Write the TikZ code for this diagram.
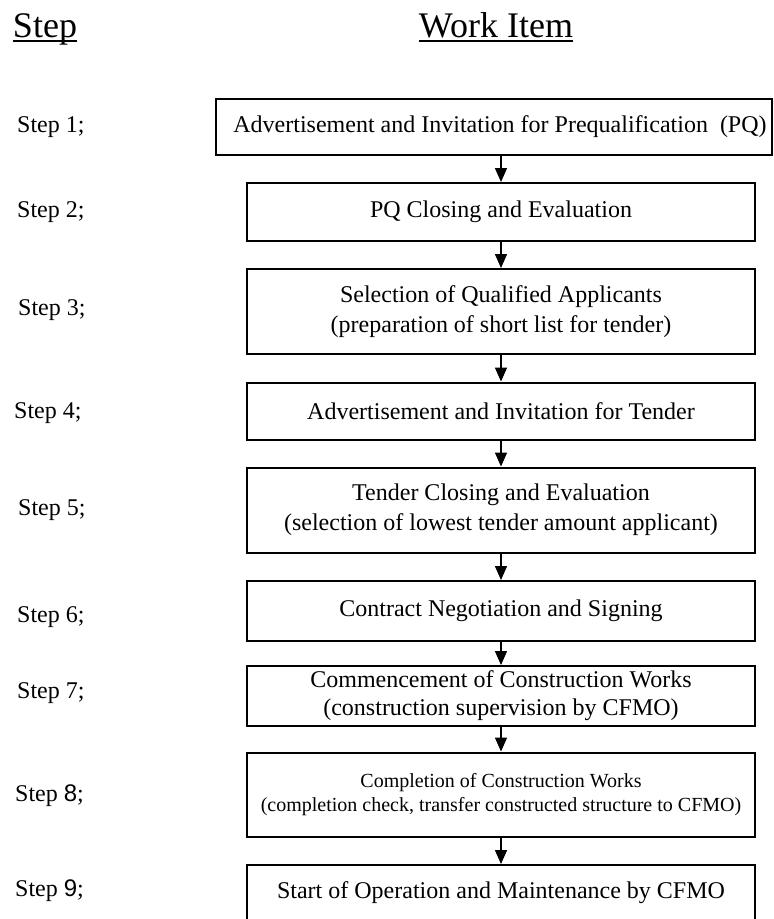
\documentclass[tikz,border=0pt]{standalone}
\usepackage{fontspec}
\setmainfont{Liberation Serif}
\newfontfamily\arialf{Liberation Sans}
\usetikzlibrary{arrows.meta}
\begin{document}
\begin{tikzpicture}[x=1pt,y=-1pt,
  wbox/.style={draw, line width=2pt, inner sep=0pt, align=center, minimum width=508pt,
    font=\fontsize{24}{30}\selectfont},
  steplbl/.style={anchor=west, inner sep=0pt, font=\fontsize{24}{28}\selectfont},
  hdr/.style={inner sep=0pt, anchor=base, font=\fontsize{36}{40}\selectfont},
  uline/.style={line width=2pt},
  arr/.style={line width=1.5pt, -{Triangle[length=14pt,width=12pt]}}]
\useasboundingbox (0,0) rectangle (774,919);
% headers
\node[hdr] (hstep) at (45,37) {Step};
\node[hdr] (hwork) at (496,37) {Work Item};
\draw[uline] ([yshift=-3.5pt]hstep.base west) -- ([yshift=-3.5pt]hstep.base east);
\draw[uline] ([yshift=-3.5pt]hwork.base west) -- ([yshift=-3.5pt]hwork.base east);
% boxes
\node[wbox, minimum width=556pt, minimum height=56.5pt] (b1) at (494,127) {\hspace*{12pt}Advertisement and Invitation for Prequalification\ \ (PQ)};
\node[wbox, minimum height=58pt] (b2) at (501,212) {PQ Closing and Evaluation};
\node[wbox, minimum height=85pt] (b3) at (501,311.5) {Selection of Qualified Applicants\\(preparation of short list for tender)};
\node[wbox, minimum height=57pt] (b4) at (501,411) {Advertisement and Invitation for Tender};
\node[wbox, minimum height=85pt] (b5) at (501,510) {Tender Closing and Evaluation\\(selection of lowest tender amount applicant)};
\node[wbox, minimum height=60pt] (b6) at (501,611) {Contract Negotiation and Signing};
\node[wbox, minimum height=60pt, font=\fontsize{24}{28}\selectfont] (b7) at (501,696) {Commencement of Construction Works\\(construction supervision by CFMO)};
\node[wbox, minimum height=84pt, font=\fontsize{20}{24}\selectfont] (b8) at (501,794.5) {Completion of Construction Works\\(completion check, transfer constructed structure to CFMO)};
\node[wbox, minimum height=56pt] (b9) at (501,893) {Start of Operation and Maintenance by CFMO};
% arrows
\draw[arr] (b1.south -| b2.north) -- (b2.north);
\draw[arr] (b2) -- (b3);
\draw[arr] (b3) -- (b4);
\draw[arr] (b4) -- (b5);
\draw[arr] (b5) -- (b6);
\draw[arr] (b6) -- (b7);
\draw[arr] (b7) -- (b8);
\draw[arr] (b8) -- (b9);
% step labels
\node[steplbl] (s1) at (17,127) {Step 1;};
\node[steplbl] (s2) at (17,212) {Step 2;};
\node[steplbl] (s3) at (18,310) {Step 3;};
\node[steplbl] (s4) at (14,413) {Step 4;};
\node[steplbl] (s5) at (18,510) {Step 5;};
\node[steplbl] (s6) at (17,617) {Step 6;};
\node[steplbl] (s7) at (17,693) {Step 7;};
\node[steplbl] (s8) at (15,796) {Step {\arialf 8};};
\node[steplbl] (s9) at (15,891) {Step {\arialf 9};};
\end{tikzpicture}
\end{document}
